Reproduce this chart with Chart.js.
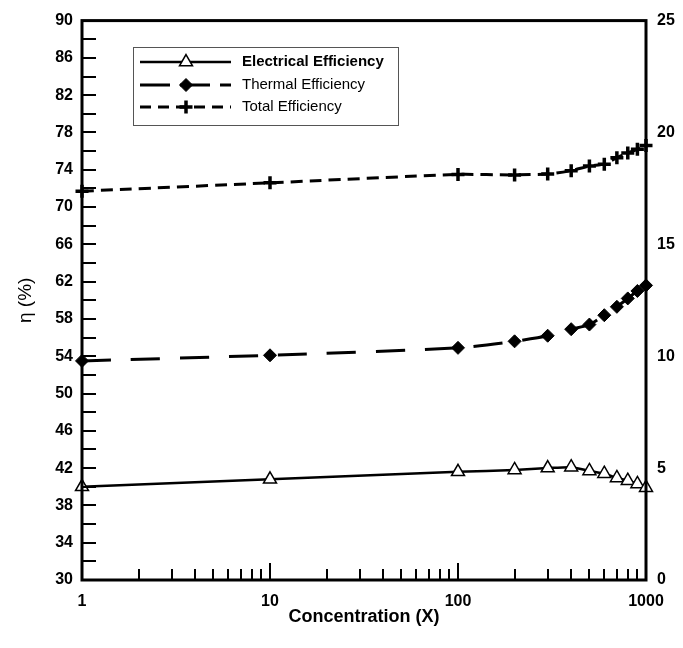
<!DOCTYPE html>
<html>
<head>
<meta charset="utf-8">
<script src="https://cdn.jsdelivr.net/npm/chart.js@4.4.1/dist/chart.umd.min.js"></script>
<style>
  html, body { margin: 0; padding: 0; background: #fff; }
  #wrap { width: 683px; height: 648px; }
</style>
</head>
<body>
<div id="wrap"><canvas id="c" width="683" height="648"></canvas></div>
<script>
// ---- data ----
const concentration = [1, 10, 100, 200, 300, 400, 500, 600, 700, 800, 900, 1000];
const electricalEff = [40.0, 40.8, 41.6, 41.8, 42.0, 42.1, 41.7, 41.4, 40.95, 40.65, 40.3, 39.9];
const thermalEff    = [53.5, 54.1, 54.9, 55.6, 56.2, 56.9, 57.4, 58.4, 59.3, 60.2, 61.0, 61.6];
const totalEff      = [71.7, 72.6, 73.5, 73.45, 73.55, 73.9, 74.4, 74.6, 75.3, 75.8, 76.2, 76.6];
const seriesLabels  = ['Electrical Efficiency', 'Thermal Efficiency', 'Total Efficiency'];
const xTickLabels   = [1, 10, 100, 1000];
const yLeftRange    = [30, 90, 4];
const yRightRange   = [0, 25, 5];
const xTitle = 'Concentration (X)';
const yTitle = 'η (%)';

const FONT = "'Liberation Sans', Arial, sans-serif";
const pts = arr => concentration.map((x, i) => ({ x: x, y: arr[i] }));

const framePlugin = {
  id: 'frame',
  afterDraw(chart) {
    const { ctx, chartArea: { left, right, top, bottom }, scales } = chart;
    ctx.save();
    ctx.strokeStyle = '#000';
    ctx.setLineDash([]);
    ctx.lineWidth = 2;
    ctx.beginPath();
    // left inward ticks every 2 units
    for (let v = yLeftRange[0]; v <= yLeftRange[1]; v += yLeftRange[2] / 2) {
      const y = Math.round(scales.y.getPixelForValue(v));
      ctx.moveTo(left, y); ctx.lineTo(left + 14, y);
    }
    // bottom log ticks
    for (let d = 1; d < 1000; d *= 10) {
      for (let m = 1; m <= 9; m++) {
        const v = m * d;
        if (v <= 1) continue;
        const x = Math.round(scales.x.getPixelForValue(v));
        const len = (m === 1) ? 17 : 11;
        ctx.moveTo(x, bottom); ctx.lineTo(x, bottom - len);
      }
    }
    ctx.stroke();
    // frame
    ctx.lineWidth = 3;
    ctx.strokeRect(left, top, right - left, bottom - top);
    ctx.restore();

    // legend
    const bx = 133, by = 47, bw = 265, bh = 78;
    ctx.save();
    ctx.lineWidth = 1;
    ctx.strokeStyle = '#555';
    ctx.strokeRect(bx + 0.5, by + 0.5, bw, bh);
    const rows = [62, 85, 107];
    const legendDash = [[], [30, 10], [11, 7]];
    chart.data.datasets.forEach((ds, i) => {
      const y = rows[i];
      ctx.strokeStyle = '#000';
      ctx.lineWidth = ds.borderWidth;
      ctx.setLineDash(legendDash[i]);
      ctx.beginPath();
      ctx.moveTo(140, y); ctx.lineTo(231, y);
      ctx.stroke();
      ctx.setLineDash([]);
      ctx.fillStyle = ds.pointBackgroundColor;
      ctx.strokeStyle = '#000';
      ctx.lineWidth = ds.pointBorderWidth;
      Chart.helpers.drawPoint(ctx, {
        pointStyle: ds.pointStyle, radius: ds.pointRadius, rotation: 0,
        borderWidth: ds.pointBorderWidth
      }, 186, y);
      ctx.fillStyle = '#000';
      ctx.font = (i === 0 ? 'bold ' : '') + '15px ' + FONT;
      ctx.textBaseline = 'middle';
      ctx.textAlign = 'left';
      ctx.fillText(ds.label, 242, y);
    });
    ctx.restore();
  }
};

new Chart(document.getElementById('c'), {
  type: 'line',
  data: {
    datasets: [
      {
        label: seriesLabels[0], data: pts(electricalEff), yAxisID: 'y',
        borderColor: '#000', borderWidth: 2.5, borderDash: [],
        pointStyle: 'triangle', pointRadius: 7.5, pointBackgroundColor: '#fff',
        pointBorderColor: '#000', pointBorderWidth: 1.5, tension: 0.2, clip: false
      },
      {
        label: seriesLabels[1], data: pts(thermalEff), yAxisID: 'y',
        borderColor: '#000', borderWidth: 3, borderDash: [29, 20],
        pointStyle: 'rectRot', pointRadius: 6.5, pointBackgroundColor: '#000',
        pointBorderColor: '#000', pointBorderWidth: 1, tension: 0.2, clip: false
      },
      {
        label: seriesLabels[2], data: pts(totalEff), yAxisID: 'y',
        borderColor: '#000', borderWidth: 3, borderDash: [12, 7],
        pointStyle: 'cross', pointRadius: 6.5, pointBackgroundColor: '#000',
        pointBorderColor: '#000', pointBorderWidth: 3.5, tension: 0.2, clip: false
      }
    ]
  },
  options: {
    responsive: false,
    animation: false,
    devicePixelRatio: 1,
    layout: { padding: { top: 17, left: 0, right: 0, bottom: 0 } },
    plugins: { legend: { display: false }, tooltip: { enabled: false } },
    scales: {
      x: {
        type: 'logarithmic', position: 'bottom', min: 1, max: 1000,
        grid: { display: false, drawTicks: false }, border: { display: false },
        afterBuildTicks: s => { s.ticks = xTickLabels.map(v => ({ value: v })); },
        afterFit: s => { s.height = 68; },
        ticks: {
          autoSkip: false, maxRotation: 0, padding: 12, color: '#000',
          font: { family: FONT, size: 16, weight: 'bold' },
          callback: v => String(v)
        },
        title: {
          display: true, text: xTitle, color: '#000',
          font: { family: FONT, size: 18, weight: 'bold' },
          padding: { top: 0, bottom: 20 }
        }
      },
      y: {
        position: 'left', min: yLeftRange[0], max: yLeftRange[1],
        grid: { display: false, drawTicks: false }, border: { display: false },
        afterFit: s => { s.width = 82; },
        ticks: {
          stepSize: yLeftRange[2], padding: 9, color: '#000',
          font: { family: FONT, size: 16, weight: 'bold' }
        },
        title: {
          display: true, text: yTitle, color: '#000',
          font: { family: FONT, size: 19, weight: 'normal' },
          padding: { top: 14, bottom: 0 }
        }
      },
      y2: {
        display: true, position: 'right', min: yRightRange[0], max: yRightRange[1],
        grid: { display: false, drawTicks: false }, border: { display: false },
        afterFit: s => { s.width = 37; },
        ticks: {
          stepSize: yRightRange[2], padding: 11, color: '#000',
          font: { family: FONT, size: 16, weight: 'bold' }
        }
      }
    }
  },
  plugins: [framePlugin]
});
</script>
</body>
</html>
